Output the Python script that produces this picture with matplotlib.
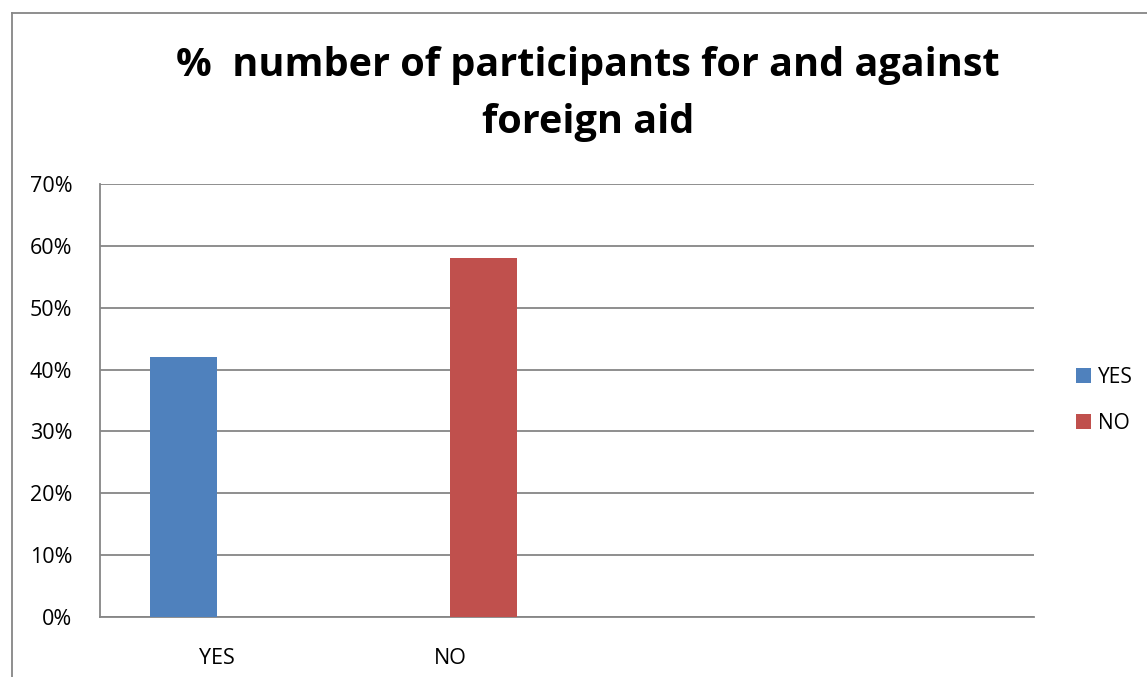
import numpy as np
import matplotlib.pyplot as plt
from matplotlib.lines import Line2D

# data
categories = ["YES", "NO", "", ""]
yes_values = [0.42, 0, 0, 0]
no_values = [0, 0.58, 0, 0]
yticks = [0, 0.1, 0.2, 0.3, 0.4, 0.5, 0.6, 0.7]

W, H = 1147, 677
fig = plt.figure(figsize=(W / 100, H / 100), dpi=100)
plt.rcParams["font.family"] = ["Open Sans", "DejaVu Sans"]

ax = fig.add_axes([100 / W, (H - 617) / H, 934 / W, 433 / H])
x = np.arange(len(categories))
width = 0.287
ax.bar(x - width / 2, yes_values, width, color="#4f81bd", label="YES", zorder=3)
ax.bar(x + width / 2, no_values, width, color="#c0504d", label="NO", zorder=3)

ax.set_xlim(-0.5, len(categories) - 0.5)
ax.set_ylim(0, 0.7)
ax.set_yticks(yticks)
ax.set_yticklabels([f"{int(round(v * 100))}%" for v in yticks], fontsize=15.5)
ax.set_xticks(x)
ax.set_xticklabels(categories, fontsize=15.5)
ax.tick_params(axis="y", length=0, pad=20)
ax.tick_params(axis="x", length=0, pad=22)
ax.grid(axis="y", color="#868686", linewidth=1.3, zorder=0)
for side in ["top", "right"]:
    ax.spines[side].set_visible(False)
for side in ["left", "bottom"]:
    ax.spines[side].set_color("#868686")
    ax.spines[side].set_linewidth(1.3)

ax.legend(loc="center left", bbox_to_anchor=(1.025, 0.5), frameon=False,
          fontsize=15, handlelength=0.7, handleheight=0.7,
          handletextpad=0.35, labelspacing=1.2)

fig.text(588 / W, 1 - 94 / H,
         "%  number of participants for and against\nforeign aid",
         ha="center", va="center", fontsize=28.5, fontweight="bold",
         linespacing=1.6)

# outer chart border (left and top edges visible)
fig.add_artist(Line2D([11.5 / W, 11.5 / W], [0, 1 - 12.5 / H],
                      transform=fig.transFigure, color="#868686", lw=1.3))
fig.add_artist(Line2D([11.5 / W, 1], [1 - 12.5 / H, 1 - 12.5 / H],
                      transform=fig.transFigure, color="#868686", lw=1.3))

fig.savefig("out.png", dpi=100)
